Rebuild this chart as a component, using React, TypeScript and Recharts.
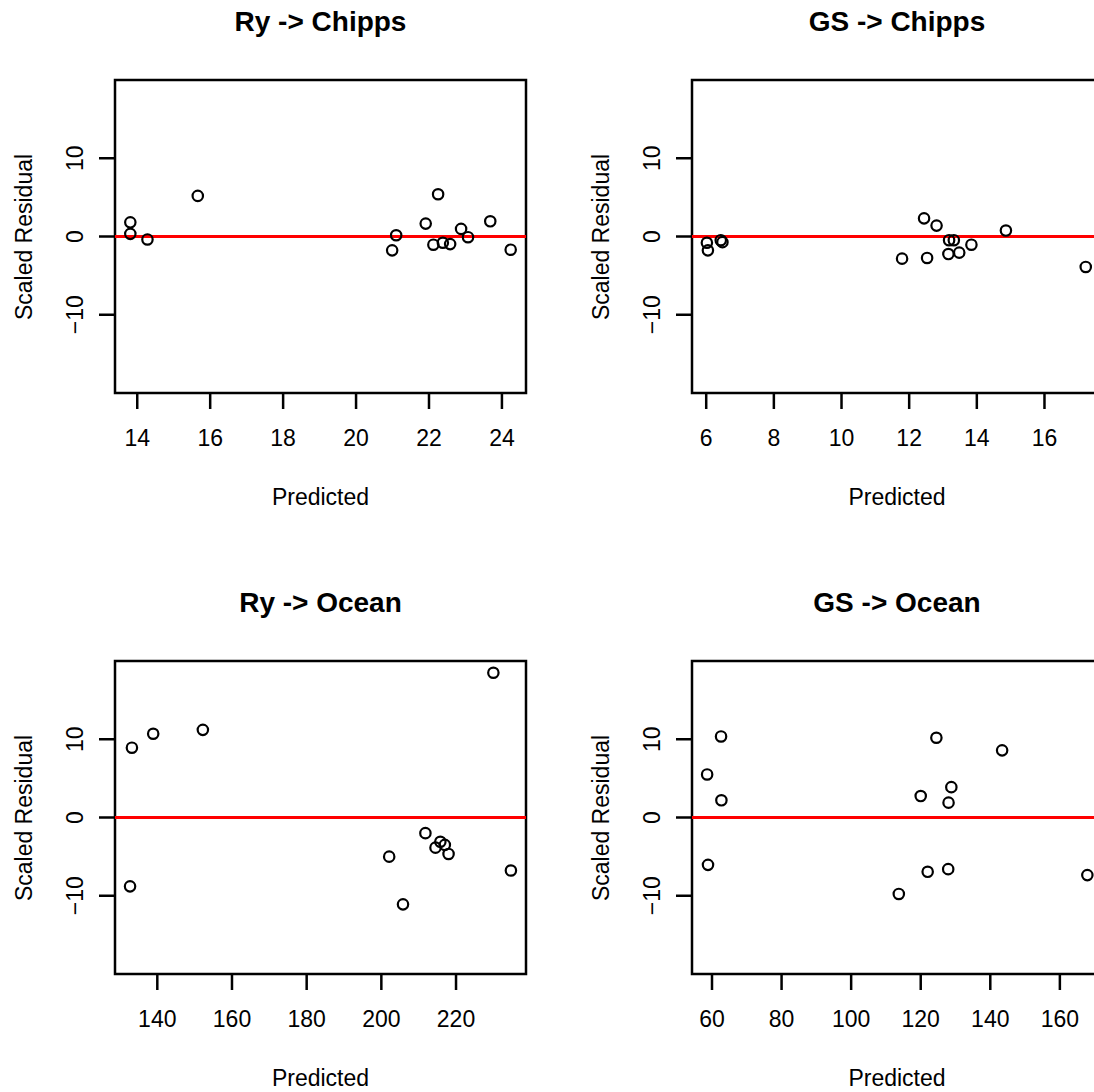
import React from 'react';
import { ScatterChart, Scatter, XAxis, YAxis, ReferenceLine, ReferenceArea } from 'recharts';

// ---- Data ----
const ryChippsPredicted = [13.81, 13.81, 14.28, 15.66, 20.99, 21.1, 21.91, 22.25, 22.12, 22.38, 22.58, 22.88, 23.07, 23.68, 24.24];
const ryChippsResidual = [1.81, 0.34, -0.38, 5.19, -1.77, 0.16, 1.65, 5.4, -1.05, -0.8, -0.97, 0.97, -0.09, 1.94, -1.69];

const gsChippsPredicted = [6.02, 6.05, 6.43, 6.48, 11.79, 12.44, 12.53, 12.81, 13.18, 13.32, 13.16, 13.48, 13.84, 14.86, 17.22];
const gsChippsResidual = [-0.8, -1.77, -0.47, -0.72, -2.83, 2.32, -2.74, 1.39, -0.47, -0.47, -2.24, -2.06, -1.05, 0.76, -3.89];

const ryOceanPredicted = [133.2, 138.9, 152.2, 132.7, 230.0, 202.1, 205.8, 211.8, 214.5, 215.8, 217.0, 218.0, 234.7];
const ryOceanResidual = [8.92, 10.7, 11.2, -8.8, 18.5, -5.0, -11.1, -2.0, -3.85, -3.1, -3.5, -4.66, -6.77];

const gsOceanPredicted = [62.6, 58.6, 62.7, 58.85, 113.7, 120.0, 122.0, 124.5, 127.9, 128.0, 128.8, 143.4, 167.9];
const gsOceanResidual = [10.36, 5.5, 2.2, -6.05, -9.77, 2.74, -6.94, 10.19, -6.6, 1.9, 3.88, 8.58, -7.36];

const panelTitles = ['Ry -> Chipps', 'GS -> Chipps', 'Ry -> Ocean', 'GS -> Ocean'];
const ryChippsTicks = [14, 16, 18, 20, 22, 24];
const gsChippsTicks = [6, 8, 10, 12, 14, 16];
const ryOceanTicks = [140, 160, 180, 200, 220];
const gsOceanTicks = [60, 80, 100, 120, 140, 160];
const residualTicks = [-10, 0, 10];
const xAxisTitle = 'Predicted';
const yAxisTitle = 'Scaled Residual';

// ---- Layout ----
const FONT = '"Liberation Sans", Arial, Helvetica, sans-serif';
const CHART_W = 577;
const CHART_H = 581;
const M_LEFT = 115;
const M_TOP = 80;
const PLOT_W = 411;
const PLOT_H = 313;
const Y_DOMAIN: [number, number] = [-20, 20];

const fmt = (v: number) => (v < 0 ? `\u2212${Math.abs(v)}` : `${v}`);

const XTick = (props: any) => {
  const { x, y, payload } = props;
  return (
    <text x={x} y={y + 37.3} textAnchor="middle" fontSize={23} fontFamily={FONT} fill="#000">
      {fmt(payload.value)}
    </text>
  );
};

const YTick = (props: any) => {
  const { x, y, payload } = props;
  return (
    <text
      transform={`translate(${x - 16.5},${y}) rotate(-90)`}
      textAnchor="middle"
      fontSize={23}
      fontFamily={FONT}
      fill="#000"
    >
      {fmt(payload.value)}
    </text>
  );
};

const Ring = (props: any) => (
  <circle cx={props.cx} cy={props.cy} r={5.2} fill="none" stroke="#000" strokeWidth={2.2} />
);

type PanelProps = {
  ox: number;
  oy: number;
  title: string;
  pred: number[];
  res: number[];
  xDomain: [number, number];
  xTicks: number[];
};

const Panel = ({ ox, oy, title, pred, res, xDomain, xTicks }: PanelProps) => {
  const data = pred.map((x, i) => ({ x, y: res[i] }));
  return (
    <>
      <div style={{ position: 'absolute', left: ox, top: oy, width: CHART_W, height: CHART_H }}>
        <ScatterChart
          width={CHART_W}
          height={CHART_H}
          margin={{ top: M_TOP, right: CHART_W - M_LEFT - PLOT_W, bottom: 0, left: 0 }}
        >
          <XAxis
            type="number"
            dataKey="x"
            domain={xDomain}
            ticks={xTicks}
            allowDataOverflow
            height={CHART_H - M_TOP - PLOT_H}
            axisLine={false}
            tickSize={16}
            tickMargin={0}
            stroke="#000"
            tickLine={{ stroke: '#000', strokeWidth: 2.5 }}
            tick={<XTick />}
            interval={0}
          />
          <YAxis
            type="number"
            dataKey="y"
            domain={Y_DOMAIN}
            ticks={residualTicks}
            allowDataOverflow
            width={M_LEFT}
            axisLine={false}
            tickSize={16}
            tickMargin={0}
            stroke="#000"
            tickLine={{ stroke: '#000', strokeWidth: 2.5 }}
            tick={<YTick />}
            interval={0}
          />
          <ReferenceArea
            x1={xDomain[0]}
            x2={xDomain[1]}
            y1={Y_DOMAIN[0]}
            y2={Y_DOMAIN[1]}
            fill="none"
            fillOpacity={0}
            stroke="#000"
            strokeWidth={2.5}
            ifOverflow="visible"
          />
          <Scatter data={data} shape={<Ring />} isAnimationActive={false} />
          <ReferenceLine y={0} stroke="#ff0000" strokeWidth={2.8} ifOverflow="visible" />
        </ScatterChart>
      </div>
      <div
        style={{
          position: 'absolute',
          left: ox + M_LEFT,
          top: oy + 8.3,
          width: PLOT_W,
          textAlign: 'center',
          fontSize: 28,
          lineHeight: '28px',
          fontWeight: 'bold',
          fontFamily: FONT,
          whiteSpace: 'nowrap',
          color: '#000',
        }}
      >
        {title}
      </div>
      <div
        style={{
          position: 'absolute',
          left: ox + M_LEFT,
          top: oy + 485.5,
          width: PLOT_W,
          textAlign: 'center',
          fontSize: 23,
          lineHeight: '23px',
          fontFamily: FONT,
          whiteSpace: 'nowrap',
          color: '#000',
        }}
      >
        {xAxisTitle}
      </div>
      <div
        style={{
          position: 'absolute',
          left: ox + 24,
          top: oy + M_TOP + PLOT_H / 2,
          transform: 'translate(-50%, -50%) rotate(-90deg)',
          fontSize: 23,
          lineHeight: '23px',
          fontFamily: FONT,
          whiteSpace: 'nowrap',
          color: '#000',
        }}
      >
        {yAxisTitle}
      </div>
    </>
  );
};

export default function App() {
  return (
    <div
      style={{
        position: 'fixed',
        left: 0,
        top: 0,
        width: 1094,
        height: 1092,
        overflow: 'hidden',
        background: '#fff',
        fontFamily: FONT,
      }}
    >
      <Panel ox={0} oy={0} title={panelTitles[0]} pred={ryChippsPredicted} res={ryChippsResidual} xDomain={[13.39, 24.66]} xTicks={ryChippsTicks} />
      <Panel ox={576.5} oy={0} title={panelTitles[1]} pred={gsChippsPredicted} res={gsChippsResidual} xDomain={[5.58, 17.73]} xTicks={gsChippsTicks} />
      <Panel ox={0} oy={581} title={panelTitles[2]} pred={ryOceanPredicted} res={ryOceanResidual} xDomain={[128.67, 238.74]} xTicks={ryOceanTicks} />
      <Panel ox={576.5} oy={581} title={panelTitles[3]} pred={gsOceanPredicted} res={gsOceanResidual} xDomain={[54.25, 172.4]} xTicks={gsOceanTicks} />
    </div>
  );
}
